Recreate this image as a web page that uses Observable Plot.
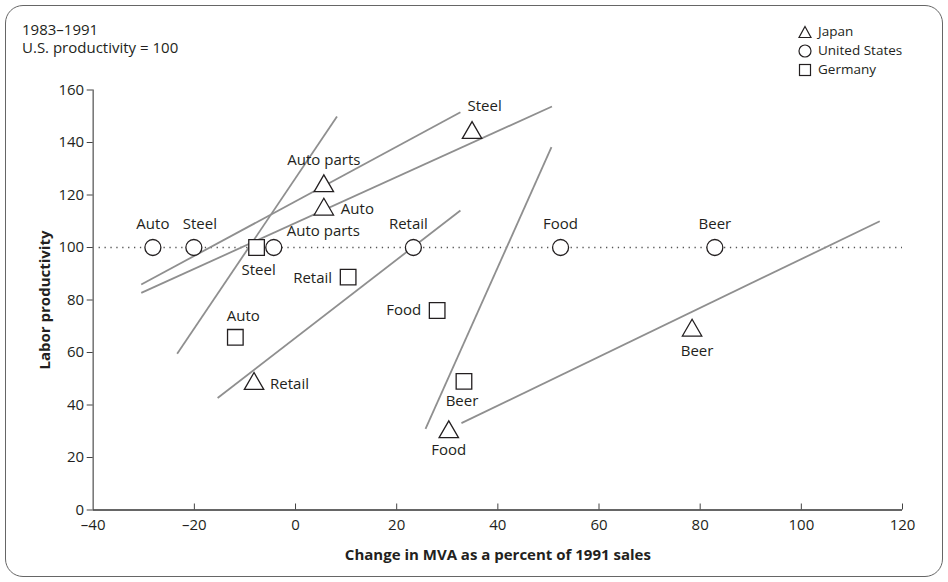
<!DOCTYPE html>
<html>
<head>
<meta charset="utf-8">
<script src="https://cdn.jsdelivr.net/npm/d3@7"></script>
<script src="https://cdn.jsdelivr.net/npm/@observablehq/plot@0.6"></script>
<style>
  body { margin: 0; background: #fff; font-family: "Open Sans", sans-serif; color: #231f20; }
  #wrap { position: relative; width: 948px; height: 582px; overflow: hidden; }
  #frame { position: absolute; left: 5px; top: 5px; border: 1.5px solid #666; border-radius: 18px; box-sizing: border-box; width: 938px; height: 572px; }
  #title { position: absolute; left: 22px; top: 21px; font-size: 15px; line-height: 17.5px; }
  #legend { position: absolute; left: 798px; top: 22px; font-size: 13.5px; line-height: 19px; }
  #legend div { display: flex; align-items: center; height: 19px; }
  #legend svg { margin-right: 6px; }
  #chart { position: absolute; left: 0; top: 60px; }
</style>
</head>
<body>
<div id="wrap">
  <div id="frame"></div>
  <div id="title"><div>1983–1991</div><div>U.S. productivity = 100</div></div>
  <div id="legend"></div>
  <div id="chart"></div>
</div>
<script>
// ---- data ----
const countries = ["Japan", "United States", "Germany"];

const japanIndustries = ["Steel", "Auto parts", "Auto", "Retail", "Food", "Beer"];
const japanMVA = [34.9, 5.6, 5.6, -8.2, 30.3, 78.4];
const japanProd = [143.7, 123.4, 114.5, 48.1, 29.7, 68.4];

const usIndustries = ["Auto", "Steel", "Auto parts", "Retail", "Food", "Beer"];
const usMVA = [-28.2, -20.1, -4.3, 23.3, 52.4, 82.9];
const usProd = [100, 100, 100, 100, 100, 100];

const germanyIndustries = ["Steel", "Retail", "Auto", "Food", "Beer"];
const germanyMVA = [-7.7, 10.4, -11.9, 28.0, 33.3];
const germanyProd = [100, 88.7, 65.8, 76.0, 49.0];

// trend lines (start/end in data units)
const lineX1 = [-23.4, -30.5, -30.5, -15.4, 25.7, 32.8];
const lineY1 = [59.5, 85.9, 82.7, 42.7, 30.9, 33.1];
const lineX2 = [8.2, 32.6, 50.7, 32.6, 50.6, 115.5];
const lineY2 = [149.9, 151.5, 153.7, 114.1, 138.2, 110.0];

const xTicks = [-40, -20, 0, 20, 40, 60, 80, 100, 120];
const yTicks = [0, 20, 40, 60, 80, 100, 120, 140, 160];
const xDomain = [-40, 120];
const yDomain = [0, 160];
const baseline = 100;
const xLabel = "Change in MVA as a percent of 1991 sales";
const yLabel = "Labor productivity";

// ---- layout (label placement, px) ----
const japanLabelPos = [[12.6, -27, "middle"], [0, -25.5, "middle"], [17, 0, "start"], [16, 0, "start"], [0, 18, "middle"], [5, 21, "middle"]];
const usLabelPos = [[0, -23, "middle"], [6, -23, "middle"], [13, -16, "start"], [-5, -23, "middle"], [0, -23, "middle"], [0, -23, "middle"]];
const germanyLabelPos = [[2, 23, "middle"], [-16, 1, "end"], [8, -21, "middle"], [-16, 0, "end"], [-2, 20, "middle"]];

// ---- build tables ----
const mk = (names, xs, ys, pos) => names.map((n, i) => ({name: n, x: xs[i], y: ys[i], dx: pos[i][0], dy: pos[i][1], anchor: pos[i][2]}));
const japan = mk(japanIndustries, japanMVA, japanProd, japanLabelPos);
const us = mk(usIndustries, usMVA, usProd, usLabelPos);
const germany = mk(germanyIndustries, germanyMVA, germanyProd, germanyLabelPos);
const lines = lineX1.map((d, i) => ({x1: d, y1: lineY1[i], x2: lineX2[i], y2: lineY2[i]}));

const W = 948, H = 522, mt = 29.5, mb = 72.5, ml = 92.7, mr = 46;
const innerH = H - mt - mb;
const ink = "#231f20";
const fmt = d => d < 0 ? "–" + Math.abs(d) : String(d);

const labelMarks = [...japan, ...us, ...germany].map(d =>
  Plot.text([d], {x: "x", y: "y", text: "name", dx: d.dx, dy: d.dy, textAnchor: d.anchor, lineAnchor: "middle", fill: ink, fontSize: 15})
);

const chart = Plot.plot({
  width: W, height: H,
  marginTop: mt, marginBottom: mb, marginLeft: ml, marginRight: mr,
  x: {domain: xDomain},
  y: {domain: yDomain},
  style: {fontFamily: "'Open Sans', sans-serif", fontSize: "15px", color: ink, background: "transparent", overflow: "visible"},
  marks: [
    Plot.ruleY([baseline], {x1: xDomain[0], x2: xDomain[1], stroke: "#555", strokeWidth: 1.3, strokeDasharray: "1.3,4.6"}),
    Plot.link(lines, {x1: "x1", y1: "y1", x2: "x2", y2: "y2", stroke: "#8f8f8f", strokeWidth: 1.8}),
    Plot.ruleX([xDomain[0]], {y1: yDomain[0], y2: yDomain[1], stroke: "#7a7a7a", strokeWidth: 1.6}),
    Plot.ruleY([yDomain[0]], {x1: xDomain[0], x2: xDomain[1], stroke: "#333", strokeWidth: 1.3}),
    Plot.tickX(xTicks.slice(1), {x: d => d, insetTop: innerH - 6, stroke: "#444", strokeWidth: 1}),
    Plot.axisY({ticks: yTicks, tickSize: 6, tickPadding: 3, stroke: "#444", label: null, tickFormat: fmt, fontSize: 15}),
    Plot.axisX({ticks: xTicks, tickSize: 0, tickPadding: 9, label: null, tickFormat: fmt, fontSize: 15}),
    Plot.dot(us, {x: "x", y: "y", symbol: "circle", r: 8, fill: "white", stroke: ink, strokeWidth: 1.3}),
    Plot.dot(germany, {x: "x", y: "y", symbol: "square", r: 8.8, fill: "white", stroke: ink, strokeWidth: 1.3}),
    Plot.dot(japan, {x: "x", y: "y", symbol: "triangle", r: 7.2, fill: "white", stroke: ink, strokeWidth: 1.3}),
    ...labelMarks,
    Plot.text([yLabel], {frameAnchor: "left", dx: -48, rotate: -90, textAnchor: "middle", fontWeight: "bold", fontSize: 15, fill: ink, lineAnchor: "middle"}),
    Plot.text([xLabel], {frameAnchor: "bottom", dy: 45.5, textAnchor: "middle", fontWeight: "bold", fontSize: 15, fill: ink, lineAnchor: "middle"})
  ]
});
document.getElementById("chart").appendChild(chart);

// ---- legend ----
const legendSymbols = {
  "Japan": '<polygon points="7,1.5 13,12.5 1,12.5" fill="white" stroke="#231f20" stroke-width="1.2"/>',
  "United States": '<circle cx="7" cy="7" r="6" fill="white" stroke="#231f20" stroke-width="1.2"/>',
  "Germany": '<rect x="1.5" y="1.5" width="11" height="11" fill="white" stroke="#231f20" stroke-width="1.2"/>'
};
const legend = document.getElementById("legend");
countries.forEach(c => {
  const row = document.createElement("div");
  row.innerHTML = `<svg width="14" height="14" viewBox="0 0 14 14">${legendSymbols[c]}</svg><span>${c}</span>`;
  legend.appendChild(row);
});
</script>
</body>
</html>
